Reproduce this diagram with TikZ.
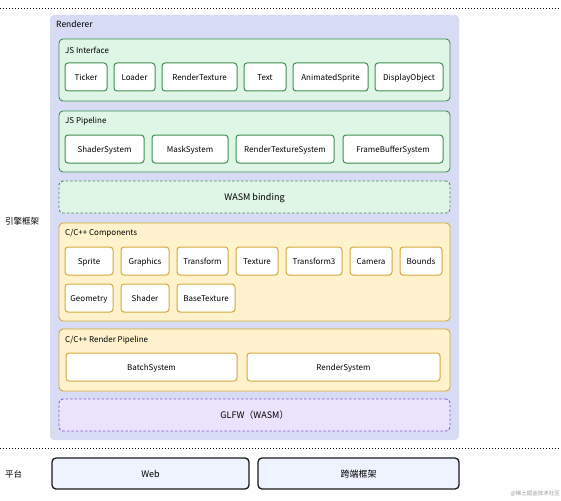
\documentclass[tikz,border=0pt]{standalone}
\usepackage{fontspec}
\setmainfont{Noto Sans CJK SC}
\usepackage{xcolor}
\usepackage{tikz}
\definecolor{rendfill}{HTML}{D7DCF4}
\definecolor{greenfill}{HTML}{DFF5E5}
\definecolor{greenline}{HTML}{3F8F4F}
\definecolor{yellowfill}{HTML}{FFF2CC}
\definecolor{yellowline}{HTML}{D6A93A}
\definecolor{purplefill}{HTML}{EAE3FB}
\definecolor{purpleline}{HTML}{7C5CD6}
\definecolor{platfill}{HTML}{EEF3FD}
\tikzstyle{group}=[rounded corners=4pt, line width=0.9pt, inner sep=0pt, text height=8.2pt, text depth=0.6pt]
\tikzstyle{green group}=[group, fill=greenfill, draw=greenline]
\tikzstyle{yellow group}=[group, fill=yellowfill, draw=yellowline]
\tikzstyle{green item}=[rounded corners=3pt, fill=white, draw=greenline, line width=1pt, minimum height=28pt, inner sep=0pt, text height=8pt, text depth=0.5pt, font=\fontsize{8}{9}\selectfont]
\tikzstyle{yellow item}=[green item, draw=yellowline]
\tikzstyle{title}=[anchor=west, inner sep=0pt, font=\fontsize{8}{9}\selectfont]
\tikzstyle{dotted line}=[line width=0.9pt, dash pattern=on 1pt off 2pt]

\begin{document}
\begin{tikzpicture}[x=1pt, y=-1pt]
	\useasboundingbox (0,0) rectangle (561,500);
	% separators
	\draw [style=dotted line] (0,8) -- (561,8);
	\draw [style=dotted line] (0,448) -- (561,448);
	\node [style=title, font=\fontsize{8.5}{10}\selectfont] (engine) at (5,221) {引擎框架};
	\node [style=title, font=\fontsize{8.5}{10}\selectfont] (platform) at (5,474) {平台};
	% renderer
	\node [group, fill=rendfill, draw=none, minimum width=409pt, minimum height=425pt] (renderer) at (254.5,227.5) {};
	\node [style=title, font=\fontsize{8.5}{10}\selectfont] (renderertitle) at (56,24) {Renderer};
	% JS Interface
	\node [style=green group, minimum width=391pt, minimum height=62pt] (jsif) at (254.5,70) {};
	\node [style=title] (jsiftitle) at (65,50) {JS Interface};
	\node [style=green item, minimum width=42pt] (ticker) at (86,77) {Ticker};
	\node [style=green item, minimum width=41pt] (loader) at (134.5,77) {Loader};
	\node [style=green item, minimum width=75pt] (rtex) at (199.5,77) {RenderTexture};
	\node [style=green item, minimum width=42pt] (text) at (265,77) {Text};
	\node [style=green item, minimum width=75pt] (anim) at (330.5,77) {AnimatedSprite};
	\node [style=green item, minimum width=68pt] (dispobj) at (409,77) {DisplayObject};
	% JS Pipeline
	\node [style=green group, minimum width=391pt, minimum height=61pt] (jspipe) at (254.5,141.5) {};
	\node [style=title] (jspipetitle) at (65,121) {JS Pipeline};
	\node [style=green item, minimum width=79pt] (shadersys) at (104.5,149) {ShaderSystem};
	\node [style=green item, minimum width=76pt] (masksys) at (190,149) {MaskSystem};
	\node [style=green item, minimum width=98pt] (rtexsys) at (285,149) {RenderTextureSystem};
	\node [style=green item, minimum width=100pt] (fbsys) at (393,149) {FrameBufferSystem};
	% WASM binding
	\node [style=green group, dashed, dash pattern=on 2.5pt off 2pt, minimum width=391pt, minimum height=32pt, font=\fontsize{9}{10}\selectfont] (binding) at (254.5,197) {WASM binding};
	% C/C++ Components
	\node [style=yellow group, minimum width=391pt, minimum height=98pt] (comp) at (254.5,272) {};
	\node [style=title] (comptitle) at (65,233) {C/C++ Components};
	\node [style=yellow item, minimum width=48pt] (sprite) at (89,261) {Sprite};
	\node [style=yellow item, minimum width=48pt] (graphics) at (145,261) {Graphics};
	\node [style=yellow item, minimum width=51pt] (transform) at (202.5,261) {Transform};
	\node [style=yellow item, minimum width=42pt] (texture) at (257,261) {Texture};
	\node [style=yellow item, minimum width=56pt] (transform3) at (314,261) {Transform3};
	\node [style=yellow item, minimum width=42pt] (camera) at (371,261) {Camera};
	\node [style=yellow item, minimum width=42pt] (bounds) at (421,261) {Bounds};
	\node [style=yellow item, minimum width=48pt] (geometry) at (89,298) {Geometry};
	\node [style=yellow item, minimum width=48pt] (shader) at (145,298) {Shader};
	\node [style=yellow item, minimum width=58pt] (basetex) at (206,298) {BaseTexture};
	% C/C++ Render Pipeline
	\node [style=yellow group, minimum width=391pt, minimum height=62pt] (cpipe) at (254.5,360) {};
	\node [style=title] (cpipetitle) at (65,340) {C/C++ Render Pipeline};
	\node [style=yellow item, minimum width=171pt] (batchsys) at (151.5,367) {BatchSystem};
	\node [style=yellow item, minimum width=193pt] (rendersys) at (343.5,367) {RenderSystem};
	% GLFW
	\node [group, fill=purplefill, draw=purpleline, dashed, dash pattern=on 2.5pt off 2pt, minimum width=391pt, minimum height=32pt, font=\fontsize{9}{10}\selectfont] (glfw) at (254.5,415) {GLFW（WASM）};
	% platform
	\node [group, fill=platfill, draw=black!90, line width=1.3pt, minimum width=197pt, minimum height=31pt, font=\fontsize{9}{10}\selectfont] (web) at (150.5,473.5) {Web};
	\node [group, fill=platfill, draw=black!90, line width=1.3pt, minimum width=201pt, minimum height=31pt, font=\fontsize{9}{10}\selectfont] (cross) at (358.5,473.5) {跨端框架};
	\node [anchor=east, inner sep=0pt, text=black!40, font=\fontsize{5.5}{6}\selectfont] (mark) at (560,494) {@稀土掘金技术社区};
\end{tikzpicture}
\end{document}
